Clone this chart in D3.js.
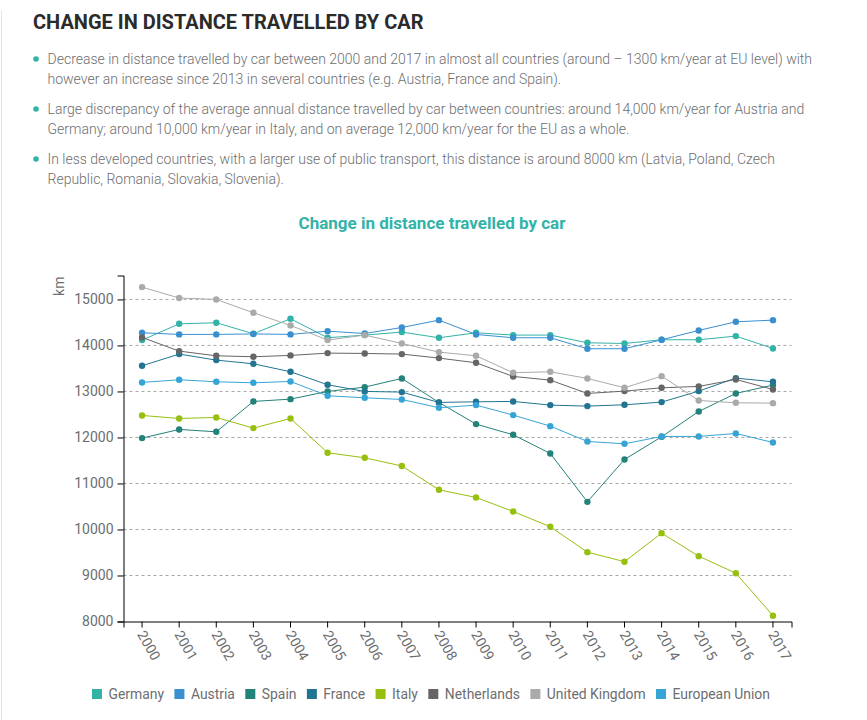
<!DOCTYPE html>
<html>
<head>
<meta charset="utf-8">
<script src="https://cdn.jsdelivr.net/npm/d3@7"></script>
<style>
  body { margin: 0; background: #fff; font-family: Roboto, sans-serif; }
  .para { font-size: 14px; font-weight: 300; fill: #6d6e70; }
  .tick text { font-family: Roboto, sans-serif; font-size: 14px; fill: #6d6e70; }
  .legend text { font-size: 13.9px; fill: #6d6e70; }
</style>
</head>
<body>
<div id="chart"></div>
<script>
// chart data
var years = ["2000","2001","2002","2003","2004","2005","2006","2007","2008","2009","2010","2011","2012","2013","2014","2015","2016","2017"];
var yTicks = [8000,9000,10000,11000,12000,13000,14000,15000];

var germany = [14116,14470,14493,14254,14580,14167,14225,14290,14167,14275,14225,14225,14058,14043,14123,14123,14203,13935];
var austria = [14275,14240,14240,14250,14240,14310,14260,14390,14550,14239,14167,14167,13928,13928,14123,14326,14514,14550];
var spain = [11986,12174,12123,12783,12833,13000,13094,13283,12761,12290,12058,11652,10601,11522,12014,12565,12957,13138];
var france = [13558,13812,13681,13601,13428,13145,13000,12986,12761,12775,12783,12703,12681,12710,12768,13007,13290,13210];
var italy = [12478,12413,12435,12203,12413,11667,11558,11380,10862,10696,10391,10060,9507,9300,9920,9420,9050,8126];
var netherlands = [14174,13877,13775,13754,13783,13833,13826,13812,13725,13623,13326,13246,12957,13007,13080,13109,13261,13043];
var uk = [15268,15030,15000,14710,14435,14116,14225,14043,13855,13775,13406,13428,13283,13080,13333,12804,12754,12746];
var eu = [13196,13254,13210,13188,13217,12906,12862,12826,12645,12703,12486,12246,11913,11862,12022,12022,12087,11891];

var seriesNames = ["Germany","Austria","Spain","France","Italy","Netherlands","United Kingdom","European Union"];
var seriesValues = [germany,austria,spain,france,italy,netherlands,uk,eu];
var seriesColors = ["#32b3a8","#3a8fcf","#23827a","#217592","#97c00e","#666666","#aaaaaa","#36a5d6"];

var heading = "CHANGE IN DISTANCE TRAVELLED BY CAR";
var chartTitle = "Change in distance travelled by car";
var paragraphs = [
    ["Decrease in distance travelled by car between 2000 and 2017 in almost all countries (around – 1300 km/year at EU level) with",
     "however an increase since 2013 in several countries (e.g. Austria, France and Spain)."],
    ["Large discrepancy of the average annual distance travelled by car between countries: around 14,000 km/year for Austria and",
     "Germany; around 10,000 km/year in Italy, and on average 12,000 km/year for the EU as a whole."],
    ["In less developed countries, with a larger use of public transport, this distance is around 8000 km (Latvia, Poland, Czech",
     "Republic, Romania, Slovakia, Slovenia)."]
];

var svgWidth = 867;
var svgHeight = 720;
var margin = { top: 275.5, right: 75.5, bottom: 98.5, left: 123.5 };
var width = svgWidth - margin.left - margin.right;
var height = svgHeight - margin.top - margin.bottom;

var svg = d3.select("#chart")
    .append("svg")
    .attr("width", svgWidth)
    .attr("height", svgHeight)
    .style("display", "block");

// left page rule
svg.append("line")
    .attr("x1", 1.5).attr("x2", 1.5)
    .attr("y1", 10).attr("y2", svgHeight)
    .attr("stroke", "#e4e4e4");

svg.append("text")
    .attr("x", 33)
    .attr("y", 29)
    .attr("font-size", 20)
    .attr("font-weight", 700)
    .attr("fill", "#2b2b2b")
    .text(heading);

// bullets and their two text lines
paragraphs.forEach(function (lines, i) {
    var top = 64 + i * 50;
    svg.append("circle")
        .attr("cx", 36)
        .attr("cy", top - 5)
        .attr("r", 2.8)
        .attr("fill", "#32b3a8");
    lines.forEach(function (line, j) {
        svg.append("text")
            .attr("class", "para")
            .attr("x", 47.5)
            .attr("y", top + j * 20)
            .text(line);
    });
});

svg.append("text")
    .attr("x", 432)
    .attr("y", 229)
    .attr("text-anchor", "middle")
    .attr("font-size", 17)
    .attr("font-weight", 700)
    .attr("fill", "#32b3a8")
    .text(chartTitle);

var chartGroup = svg.append("g")
    .attr("transform", `translate(${margin.left}, ${margin.top})`);

var xScale = d3.scaleBand()
    .domain(years)
    .range([0, width]);

var yScale = d3.scaleLinear()
    .domain([8000, 15520])
    .range([height, 0]);

// dashed grid behind the lines
chartGroup.selectAll(".grid")
    .data(yTicks.slice(1))
    .enter()
    .append("line")
    .attr("class", "grid")
    .attr("x1", 0)
    .attr("x2", width)
    .attr("y1", d => yScale(d))
    .attr("y2", d => yScale(d))
    .attr("stroke", "#a6a6a6")
    .attr("stroke-dasharray", "3,3");

var bottomAxis = d3.axisBottom(xScale);
var leftAxis = d3.axisLeft(yScale).tickValues(yTicks).tickFormat(d3.format("d")).tickPadding(4);

var xAxisGroup = chartGroup.append("g")
    .attr("transform", `translate(0, ${height})`)
    .call(bottomAxis);

xAxisGroup.selectAll("text")
    .attr("text-anchor", "start")
    .attr("transform", "rotate(60)")
    .attr("x", 8.5)
    .attr("y", 1)
    .attr("dy", "0.71em");

chartGroup.append("g")
    .call(leftAxis);

chartGroup.append("text")
    .attr("transform", "rotate(-90)")
    .attr("x", -1)
    .attr("y", -60)
    .attr("text-anchor", "end")
    .attr("font-size", 14)
    .attr("fill", "#6d6e70")
    .text("km");

var lineFor = d3.line()
    .x((d, i) => xScale(years[i]) + xScale.bandwidth() / 2)
    .y(d => yScale(d));

seriesValues.forEach(function (values, s) {
    chartGroup.append("path")
        .attr("d", lineFor(values))
        .attr("fill", "none")
        .attr("stroke", seriesColors[s])
        .attr("stroke-width", 1);

    chartGroup.selectAll(".dot" + s)
        .data(values)
        .enter()
        .append("circle")
        .attr("class", "dot" + s)
        .attr("cx", (d, i) => xScale(years[i]) + xScale.bandwidth() / 2)
        .attr("cy", d => yScale(d))
        .attr("r", 3.2)
        .attr("fill", seriesColors[s]);
});

// legend flows from the measured label widths
var legend = svg.append("g").attr("class", "legend");
var legendX = 92;
seriesNames.forEach(function (name, i) {
    legend.append("rect")
        .attr("x", legendX)
        .attr("y", 689)
        .attr("width", 10)
        .attr("height", 10)
        .attr("fill", seriesColors[i]);
    var label = legend.append("text")
        .attr("x", legendX + 16.5)
        .attr("y", 699)
        .text(name);
    legendX += 16.5 + label.node().getComputedTextLength() + 10.4;
});
</script>
</body>
</html>
